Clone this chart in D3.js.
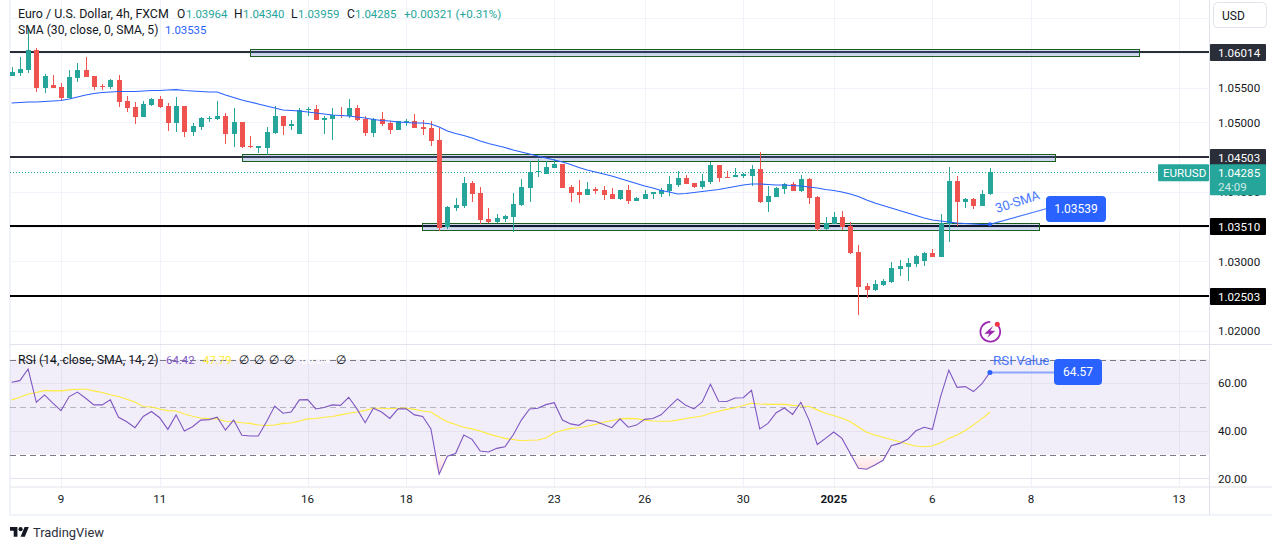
<!DOCTYPE html>
<html>
<head>
<meta charset="utf-8">
<style>
  html, body { margin: 0; padding: 0; background: #fff; overflow: hidden; }
  svg { display: block; }
  text { font-family: Roboto, sans-serif; fill: #131722; }
</style>
</head>
<body>
<div id="chart"></div>
<script src="https://d3js.org/d3.v7.min.js"></script>
<script>
// candles, bar 0 is the first 4h bar of the 9th, so the list starts at bar -6
const firstBar = -6;
const opens = [
  1.05669,1.05712,1.05755,1.06043,1.05496,1.05540,1.05511,1.05353,1.05640,1.05755,
  1.05669,1.05525,1.05511,1.05612,1.05309,1.05223,1.05079,1.05252,1.05338,1.05237,
  1.04993,1.05237,1.04863,1.04935,1.05050,1.05050,1.05093,1.04835,1.05007,1.04662,
  1.04640,1.04633,1.04849,1.05093,1.04950,1.04835,1.05187,1.05194,1.05036,1.05050,
  1.05108,1.05093,1.05209,1.05050,1.04849,1.05050,1.04993,1.04892,1.05007,1.05022,
  1.04935,1.04921,1.04748,1.03496,1.03770,1.03799,1.04130,1.03986,1.03612,1.03568,
  1.03612,1.03640,1.03813,1.04058,1.04281,1.04259,1.04345,1.04403,1.04072,1.04000,
  1.03957,1.04043,1.04029,1.03971,1.03899,1.04029,1.03871,1.03899,1.03978,1.03971,
  1.04014,1.04101,1.04201,1.04130,1.04072,1.04144,1.04389,1.04216,1.04216,1.04237,
  1.04230,1.04331,1.03856,1.03928,1.04043,1.04115,1.04014,1.04187,1.03928,1.03468,
  1.03540,1.03640,1.03511,1.03137,1.02647,1.02590,1.02662,1.02705,1.02892,1.02921,
  1.02964,1.03007,1.03122,1.03065,1.03540,1.04158,1.03856,1.03899,1.03799,1.03964
];
const highs = [
  1.05799,1.05942,1.06360,1.06072,1.05698,1.05683,1.05568,1.05755,1.05856,1.05942,
  1.05669,1.05554,1.05626,1.05683,1.05381,1.05295,1.05309,1.05353,1.05381,1.05281,
  1.05367,1.05237,1.04993,1.05079,1.05093,1.05309,1.05137,1.05209,1.05007,1.04806,
  1.04662,1.04935,1.05237,1.05093,1.05036,1.05209,1.05223,1.05252,1.05093,1.05209,
  1.05223,1.05338,1.05252,1.05093,1.05065,1.05151,1.05022,1.05022,1.05050,1.05122,
  1.05036,1.05022,1.04921,1.03799,1.03914,1.04216,1.04158,1.04072,1.03770,1.03683,
  1.03669,1.03986,1.04187,1.04446,1.04475,1.04446,1.04475,1.04403,1.04101,1.04173,
  1.04144,1.04072,1.04086,1.04058,1.04029,1.04101,1.03928,1.04029,1.04000,1.04058,
  1.04230,1.04302,1.04245,1.04130,1.04259,1.04432,1.04389,1.04302,1.04345,1.04273,
  1.04389,1.04576,1.04086,1.04072,1.04130,1.04144,1.04245,1.04201,1.03943,1.03640,
  1.03712,1.03727,1.03568,1.03237,1.02690,1.02734,1.02748,1.02993,1.03022,1.03050,
  1.03094,1.03137,1.03180,1.03683,1.04360,1.04230,1.03914,1.03914,1.04029,1.04340
];
const lows = [
  1.05669,1.05669,1.05712,1.05439,1.05424,1.05496,1.05309,1.05353,1.05583,1.05655,
  1.05468,1.05468,1.05482,1.05223,1.05151,1.04978,1.05079,1.05237,1.05209,1.04878,
  1.04863,1.04791,1.04806,1.04892,1.05007,1.05036,1.04691,1.04647,1.04633,1.04633,
  1.04561,1.04532,1.04835,1.04820,1.04892,1.04835,1.05093,1.05036,1.04835,1.04748,
  1.05065,1.05065,1.05022,1.04806,1.04791,1.04950,1.04835,1.04892,1.04950,1.04921,
  1.04820,1.04662,1.03439,1.03468,1.03727,1.03770,1.03856,1.03540,1.03554,1.03554,
  1.03568,1.03424,1.03799,1.03856,1.04216,1.04259,1.04345,1.04058,1.03856,1.03842,
  1.03957,1.03971,1.03885,1.03899,1.03885,1.03827,1.03871,1.03899,1.03899,1.03928,
  1.03943,1.04072,1.04115,1.04058,1.04043,1.04115,1.04144,1.04201,1.04216,1.04201,
  1.04086,1.03842,1.03712,1.03928,1.03971,1.04014,1.04000,1.03827,1.03439,1.03453,
  1.03540,1.03453,1.03108,1.02230,1.02475,1.02576,1.02647,1.02690,1.02791,1.02719,
  1.02921,1.02935,1.03065,1.03065,1.03281,1.03511,1.03770,1.03755,1.03799,1.03959
];
const closes = [
  1.05727,1.05770,1.06043,1.05496,1.05669,1.05496,1.05353,1.05655,1.05755,1.05655,
  1.05511,1.05511,1.05612,1.05295,1.05209,1.05079,1.05266,1.05338,1.05223,1.04993,
  1.05237,1.04863,1.04950,1.05065,1.05065,1.05093,1.04835,1.05007,1.04647,1.04647,
  1.04655,1.04863,1.05093,1.04950,1.04978,1.05180,1.05201,1.05036,1.05065,1.05108,
  1.05093,1.05209,1.05036,1.04849,1.05050,1.04978,1.04892,1.05022,1.05022,1.04921,
  1.04906,1.04734,1.03482,1.03784,1.03813,1.04130,1.03971,1.03597,1.03568,1.03626,
  1.03655,1.03827,1.04072,1.04288,1.04295,1.04360,1.04403,1.04058,1.03986,1.03957,
  1.04043,1.04014,1.03957,1.03899,1.04029,1.03871,1.03914,1.03971,1.03993,1.04029,
  1.04115,1.04201,1.04115,1.04072,1.04158,1.04389,1.04201,1.04201,1.04245,1.04252,
  1.04331,1.03856,1.03943,1.04058,1.04115,1.04014,1.04187,1.03914,1.03468,1.03554,
  1.03640,1.03496,1.03122,1.02633,1.02590,1.02676,1.02719,1.02907,1.02935,1.02979,
  1.03079,1.03122,1.03065,1.03554,1.04158,1.03856,1.03899,1.03799,1.03971,1.04285
];
const sma30 = [
  1.05281,1.05288,1.05295,1.05295,1.05302,1.05309,1.05317,1.05338,1.05367,1.05396,
  1.05417,1.05432,1.05439,1.05446,1.05446,1.05446,1.05453,1.05460,1.05460,1.05468,
  1.05472,1.05460,1.05453,1.05446,1.05439,1.05439,1.05396,1.05360,1.05324,1.05295,
  1.05266,1.05237,1.05209,1.05180,1.05173,1.05166,1.05151,1.05137,1.05122,1.05108,
  1.05101,1.05093,1.05079,1.05065,1.05043,1.05029,1.05022,1.05007,1.05000,1.04993,
  1.04993,1.04978,1.04935,1.04878,1.04842,1.04813,1.04777,1.04734,1.04698,1.04669,
  1.04640,1.04604,1.04576,1.04547,1.04518,1.04489,1.04460,1.04432,1.04396,1.04353,
  1.04317,1.04288,1.04259,1.04230,1.04194,1.04158,1.04122,1.04086,1.04058,1.04022,
  1.04000,1.03971,1.03978,1.03993,1.04007,1.04022,1.04036,1.04058,1.04079,1.04101,
  1.04115,1.04115,1.04108,1.04101,1.04101,1.04094,1.04086,1.04072,1.04058,1.04036,
  1.04022,1.04000,1.03971,1.03935,1.03885,1.03842,1.03806,1.03770,1.03734,1.03698,
  1.03662,1.03626,1.03597,1.03583,1.03568,1.03554,1.03547,1.03540,1.03532,1.03535
];
const rsi = [
  60.4,61.1,66.0,52.0,55.1,51.6,48.5,54.4,56.3,53.7,
  50.9,50.9,53.0,45.7,43.8,41.3,46.0,48.1,45.5,40.6,
  46.7,39.9,41.7,44.5,44.7,45.7,40.3,44.5,38.1,37.8,
  37.8,43.8,50.4,47.4,47.9,53.0,53.1,49.2,49.8,50.9,
  50.7,54.1,49.2,43.4,49.5,47.9,45.2,49.2,49.2,46.7,
  46.0,40.8,21.7,29.3,30.4,38.2,36.4,31.5,31.1,32.6,
  33.3,38.2,44.5,49.2,49.5,51.0,51.8,44.5,42.9,42.3,
  44.5,44.0,42.6,41.3,45.0,41.5,42.4,44.8,45.2,46.7,
  50.2,53.4,50.7,49.2,52.1,59.6,52.4,52.3,53.8,53.9,
  57.0,40.8,43.1,47.6,49.6,46.9,52.0,44.5,34.2,36.8,
  39.5,36.8,30.5,24.2,23.8,25.6,27.6,33.7,34.7,36.4,
  40.0,41.5,40.6,54.4,65.5,58.3,58.6,56.5,59.7,64.57
];
const rsiSma = [
  53.0,54.1,55.5,56.1,57.0,56.8,56.8,57.2,57.5,57.5,
  56.8,56.1,55.2,54.4,53.3,52.1,50.2,50.0,49.2,48.5,
  48.3,47.1,46.1,45.4,45.1,45.0,44.0,43.9,43.4,43.1,
  42.4,42.2,42.4,43.1,43.3,44.1,45.0,45.2,45.7,46.0,
  46.7,47.4,47.9,48.6,49.5,49.5,49.3,49.5,49.6,49.0,
  48.3,47.9,45.7,43.8,42.6,41.5,40.8,39.9,38.7,37.7,
  36.8,36.3,35.8,36.0,36.1,37.0,39.2,40.1,41.0,41.3,
  41.9,42.7,43.6,44.3,45.0,45.2,45.1,44.5,44.1,44.0,
  44.0,44.5,45.2,45.7,46.2,47.4,48.2,49.0,49.7,50.6,
  51.6,51.3,51.1,51.1,51.1,50.7,50.4,50.2,48.8,47.4,
  46.4,45.3,43.9,41.6,39.4,38.2,37.3,36.3,35.4,34.4,
  33.6,33.3,33.6,35.0,36.8,38.2,40.1,42.5,45.0,47.79
];

const priceTicks = [1.065, 1.06, 1.055, 1.05, 1.045, 1.04, 1.035, 1.03, 1.025, 1.02];
const rsiTicks = [60, 40, 20];
const rsiLevels = [70, 50, 30];
const dateBars = [0, 12, 30, 42, 60, 71, 83, 94, 106, 118, 136];
const dateLabels = ["9", "11", "16", "18", "23", "26", "30", "2025", "6", "8", "13"];
const levels = [1.06014, 1.04503, 1.0351, 1.02503];
const levelColors = ["#2a2e39", "#2a2e39", "#000000", "#000000"];
// zones drawn around the levels: price, first bar, last bar
const zoneLevels = [1.06014, 1.04503, 1.0351];
const zoneStart = [23, 22, 43.9];
const zoneEnd = [131.1, 120.9, 119];
const zoneHalf = 0.0005;

const lastPrice = 1.04285;
const smaLast = 1.03539;
const rsiLast = 64.57;

const width = 1275, height = 550;
const left = 10, axisX = 1209, paneBottom = 344.5, rsiBottom = 487, frameBottom = 515, frameRight = 1272;
const teal = "#26a69a", red = "#ef5350", blue = "#2962ff", purple = "#7e57c2", gridCol = "#f0f3fa", lineCol = "#e0e3eb";

const x = d3.scaleLinear().domain([0, 136]).range([61, 1179]);
const y = d3.scaleLinear().domain([1.02, 1.06014]).range([331, 52]);
const yRsi = d3.scaleLinear().domain([20, 70]).range([478.3, 359.5]);
const barX = i => x(i + firstBar);

const svg = d3.select("#chart").append("svg").attr("width", width).attr("height", height);
const defs = svg.append("defs");
defs.append("clipPath").attr("id", "pricePane").append("rect")
  .attr("x", left).attr("y", 0).attr("width", axisX - left).attr("height", paneBottom);
defs.append("clipPath").attr("id", "rsiPane").append("rect")
  .attr("x", left).attr("y", paneBottom).attr("width", axisX - left).attr("height", rsiBottom - paneBottom);
defs.append("clipPath").attr("id", "belowThirty").append("rect")
  .attr("x", left).attr("y", yRsi(30)).attr("width", axisX - left).attr("height", rsiBottom - yRsi(30));
const grad = defs.append("linearGradient").attr("id", "oversold")
  .attr("gradientUnits", "userSpaceOnUse").attr("x1", 0).attr("x2", 0).attr("y1", yRsi(30)).attr("y2", yRsi(22));
grad.append("stop").attr("offset", 0).attr("stop-color", "#f23645").attr("stop-opacity", 0.03);
grad.append("stop").attr("offset", 1).attr("stop-color", "#f23645").attr("stop-opacity", 0.2);

// frame
svg.append("rect").attr("x", left - 1).attr("y", 0).attr("width", 2).attr("height", frameBottom).attr("fill", gridCol);
svg.append("rect").attr("x", left - 1).attr("y", frameBottom - 1).attr("width", frameRight - left + 1).attr("height", 2).attr("fill", gridCol);

// grid
const grid = svg.append("g").attr("shape-rendering", "crispEdges").attr("stroke", gridCol);
grid.selectAll(".v").data(dateBars).join("line")
  .attr("x1", d => Math.round(x(d)) + .5).attr("x2", d => Math.round(x(d)) + .5)
  .attr("y1", 0).attr("y2", rsiBottom);
grid.selectAll(".h").data(priceTicks).join("line")
  .attr("class", "h").attr("x1", left).attr("x2", axisX)
  .attr("y1", d => Math.round(y(d)) + .5).attr("y2", d => Math.round(y(d)) + .5);

// rsi pane background
svg.append("rect").attr("x", left).attr("width", axisX - left)
  .attr("y", yRsi(70)).attr("height", yRsi(30) - yRsi(70))
  .attr("fill", purple).attr("fill-opacity", 0.1);
svg.append("g").attr("stroke", "#e4e2ee").attr("shape-rendering", "crispEdges")
  .selectAll("line").data(rsiTicks).join("line")
  .attr("x1", left).attr("x2", axisX)
  .attr("y1", d => Math.round(yRsi(d)) + .5).attr("y2", d => Math.round(yRsi(d)) + .5);
svg.append("g").selectAll("line").data(rsiLevels).join("line")
  .attr("x1", left).attr("x2", axisX)
  .attr("y1", d => Math.round(yRsi(d)) + .5).attr("y2", d => Math.round(yRsi(d)) + .5)
  .attr("stroke", "#787b86").attr("stroke-opacity", d => d === 50 ? 0.5 : 1)
  .attr("stroke-dasharray", "6 4").attr("shape-rendering", "crispEdges");

// levels and zones
const pricePane = svg.append("g").attr("clip-path", "url(#pricePane)");
pricePane.selectAll(".level").data(levels).join("line")
  .attr("class", "level").attr("x1", left).attr("x2", axisX)
  .attr("y1", d => y(d)).attr("y2", d => y(d))
  .attr("stroke", (d, i) => levelColors[i]).attr("stroke-width", 2);
pricePane.selectAll(".zone").data(zoneLevels).join("rect")
  .attr("class", "zone")
  .attr("x", (d, i) => Math.round(x(zoneStart[i])) + .5)
  .attr("width", (d, i) => Math.round(x(zoneEnd[i]) - x(zoneStart[i])))
  .attr("y", d => Math.round(y(d + zoneHalf)) + .5)
  .attr("height", d => Math.round(y(d - zoneHalf) - y(d + zoneHalf)))
  .attr("fill", "#3f63b5").attr("fill-opacity", 0.25)
  .attr("stroke", "#1b5e20").attr("stroke-width", 1);

// last price line
pricePane.append("line").attr("x1", left).attr("x2", axisX)
  .attr("y1", Math.round(y(lastPrice)) + .5).attr("y2", Math.round(y(lastPrice)) + .5)
  .attr("stroke", teal).attr("stroke-dasharray", "1 2");

// candles
const candles = pricePane.append("g").selectAll("g").data(opens).join("g")
  .attr("fill", (d, i) => closes[i] >= d ? teal : red)
  .attr("stroke", (d, i) => closes[i] >= d ? teal : red)
  .attr("shape-rendering", "crispEdges");
candles.append("line")
  .attr("x1", (d, i) => Math.round(barX(i)) + .5).attr("x2", (d, i) => Math.round(barX(i)) + .5)
  .attr("y1", (d, i) => y(highs[i])).attr("y2", (d, i) => y(lows[i]));
candles.append("rect")
  .attr("x", (d, i) => Math.round(barX(i)) - 2).attr("width", 5)
  .attr("y", (d, i) => y(Math.max(d, closes[i])))
  .attr("height", (d, i) => Math.max(1, Math.abs(y(d) - y(closes[i]))))
  .attr("stroke", "none");

// moving average
const priceLine = d3.line().x((d, i) => barX(i)).y(d => y(d));
pricePane.append("path").datum(sma30).attr("d", priceLine)
  .attr("fill", "none").attr("stroke", blue).attr("stroke-width", 1.1);

// rsi lines
const rsiPane = svg.append("g").attr("clip-path", "url(#rsiPane)");
rsiPane.append("path").datum(rsi)
  .attr("clip-path", "url(#belowThirty)")
  .attr("d", d3.area().x((d, i) => barX(i)).y0(yRsi(30)).y1(d => Math.max(yRsi(30), yRsi(d))))
  .attr("fill", "url(#oversold)");
const rsiLine = d3.line().x((d, i) => barX(i)).y(d => yRsi(d));
rsiPane.append("path").datum(rsiSma).attr("d", rsiLine)
  .attr("fill", "none").attr("stroke", "#ffeb3b").attr("stroke-width", 1.1);
rsiPane.append("path").datum(rsi).attr("d", rsiLine)
  .attr("fill", "none").attr("stroke", purple).attr("stroke-width", 1.1);

// axes
svg.append("line").attr("x1", axisX + .5).attr("x2", axisX + .5).attr("y1", 0).attr("y2", frameBottom).attr("stroke", lineCol);
svg.append("line").attr("x1", left).attr("x2", frameRight).attr("y1", paneBottom).attr("y2", paneBottom).attr("stroke", lineCol);
svg.append("line").attr("x1", left).attr("x2", frameRight).attr("y1", rsiBottom).attr("y2", rsiBottom).attr("stroke", lineCol);

const priceAxis = svg.append("g").attr("transform", `translate(${axisX},0)`)
  .call(d3.axisRight(y).tickValues(priceTicks.slice(1)).tickFormat(d3.format(".5f")).tickSize(0).tickPadding(9));
const rsiAxis = svg.append("g").attr("transform", `translate(${axisX},0)`)
  .call(d3.axisRight(yRsi).tickValues(rsiTicks).tickFormat(d3.format(".2f")).tickSize(0).tickPadding(9));
const dateAxis = svg.append("g").attr("transform", `translate(-0.5,${rsiBottom})`)
  .call(d3.axisBottom(x).tickValues(dateBars).tickFormat((d, i) => dateLabels[i]).tickSize(0).tickPadding(8));
[priceAxis, rsiAxis, dateAxis].forEach(a => {
  a.select(".domain").remove();
  a.selectAll("text").attr("font-size", 11.6).attr("font-family", "Roboto, sans-serif").style("fill", "#131722");
});
dateAxis.selectAll("text").filter(d => d === 94).attr("font-weight", 700);

// tags on the price axis
function priceTag(value, top, h, color) {
  svg.append("rect").attr("x", axisX + 1).attr("y", top).attr("width", 56).attr("height", h).attr("rx", 1).attr("fill", color);
  svg.append("text").attr("x", axisX + 9).attr("y", top + 12.7).attr("font-size", 11.6).style("fill", "#fff").text(d3.format(".5f")(value));
}
levels.forEach((d, i) => priceTag(d, Math.round(y(d)) - 8, 17, levelColors[i]));
priceTag(lastPrice, y(lastPrice) - 8, 31, teal);
svg.append("text").attr("x", axisX + 9).attr("y", y(lastPrice) + 19).attr("font-size", 11.6)
  .style("fill", "#fff").style("opacity", 0.75).text("24:09");
svg.append("rect").attr("x", 1158).attr("y", y(lastPrice) - 8).attr("width", 51).attr("height", 17).attr("rx", 1).attr("fill", teal);
svg.append("text").attr("x", 1163).attr("y", y(lastPrice) + 4.7).attr("font-size", 11.6).style("fill", "#fff").text("EURUSD");

// sma annotation
svg.append("line").attr("x1", barX(119)).attr("y1", y(sma30[119])).attr("x2", 1047).attr("y2", 208.5)
  .attr("stroke", blue).attr("stroke-opacity", 0.85).attr("stroke-width", 1.2);
svg.append("circle").attr("cx", barX(119)).attr("cy", y(sma30[119])).attr("r", 2).attr("fill", blue);
svg.append("text").attr("transform", "translate(997,213) rotate(-18)").attr("font-size", 13).style("fill", blue).style("opacity", .85).text("30-SMA");
svg.append("rect").attr("x", 1046).attr("y", 196).attr("width", 60).attr("height", 26).attr("rx", 4).attr("fill", blue);
svg.append("text").attr("x", 1076).attr("y", 213).attr("text-anchor", "middle").attr("font-size", 12).style("fill", "#fff").text(d3.format(".5f")(smaLast));

// rsi annotation
svg.append("line").attr("x1", barX(119)).attr("y1", yRsi(rsiLast)).attr("x2", 1056).attr("y2", yRsi(rsiLast))
  .attr("stroke", "#8aa4ff").attr("stroke-width", 2);
svg.append("circle").attr("cx", barX(119)).attr("cy", yRsi(rsiLast)).attr("r", 2.5).attr("fill", blue);
svg.append("text").attr("x", 993).attr("y", 365).attr("font-size", 13.4).style("fill", blue).style("opacity", .85).text("RSI Value");
svg.append("rect").attr("x", 1054).attr("y", 359).attr("width", 48).attr("height", 26).attr("rx", 4).attr("fill", blue);
svg.append("text").attr("x", 1078).attr("y", 376).attr("text-anchor", "middle").attr("font-size", 12).style("fill", "#fff").text(d3.format(".2f")(rsiLast));

// event icon
const icon = svg.append("g").attr("transform", "translate(990.3,331.7)");
icon.append("path").attr("d", d3.arc()({ innerRadius: 9, outerRadius: 10.8, startAngle: 0.75, endAngle: 6.28 })).attr("fill", "#9c27b0");
icon.append("path").attr("d", "M3,-6 L-6,2 L-1,2 L-3,6 L5,-1 L0,-1 Z").attr("fill", "#9c27b0");
icon.append("circle").attr("cx", 7).attr("cy", -7.4).attr("r", 2.5).attr("fill", "#f23645");

// usd button
svg.append("rect").attr("x", 1213.5).attr("y", 2.5).attr("width", 53).attr("height", 25).attr("rx", 4)
  .attr("fill", "#fff").attr("stroke", lineCol);
svg.append("text").attr("x", 1222).attr("y", 20).attr("font-size", 12).text("USD");

// header legends
function label(px, py, str, color, size) {
  return svg.append("text").attr("x", px).attr("y", py).attr("font-size", size || 12.4).style("fill", color || "#131722").text(str);
}
label(18, 17.5, "Euro / U.S. Dollar, 4h, FXCM");
const ohlcLabels = ["O", "H", "L", "C"];
const ohlcValues = ["1.03964", "1.04340", "1.03959", "1.04285"];
const ohlcPos = [177, 234, 291, 347];
const ohlcValuePos = [186, 243, 298, 355];
ohlcLabels.forEach((d, i) => {
  label(ohlcPos[i], 17.5, d, null, 12);
  label(ohlcValuePos[i], 17.5, ohlcValues[i], teal, 11.4);
});
label(404, 17.5, "+0.00321 (+0.31%)", teal, 11.6);
label(18, 34, "SMA (30, close, 0, SMA, 5)", null, 12.1);
label(165, 34, "1.03535", blue, 11.4);
label(18, 364, "RSI (14, close, SMA, 14, 2)", null, 12.2);
label(166, 364, "64.42", purple, 11.4);
label(203, 364, "47.79", "#ffeb3b", 11.4);
[244, 259, 274, 289, 341].forEach(p => svg.append("text").attr("x", p).attr("y", 364).attr("text-anchor", "middle")
  .attr("font-size", 12).style("font-family", "DejaVu Sans").text("\u2205"));
label(301, 364, "68.34", "#fff", 11.4);

// logo
const logo = svg.append("g").attr("transform", "translate(10,525) scale(.53)").attr("fill", "#131722");
logo.append("path").attr("d", "M14 22H7V11H0V4h14v18zM28 22h-8l7.5-18h8L28 22z");
logo.append("circle").attr("cx", 20).attr("cy", 8).attr("r", 4);
svg.append("text").attr("x", 33).attr("y", 537).attr("font-size", 12.9).style("fill", "#2a2e39").text("TradingView");
</script>
</body>
</html>
